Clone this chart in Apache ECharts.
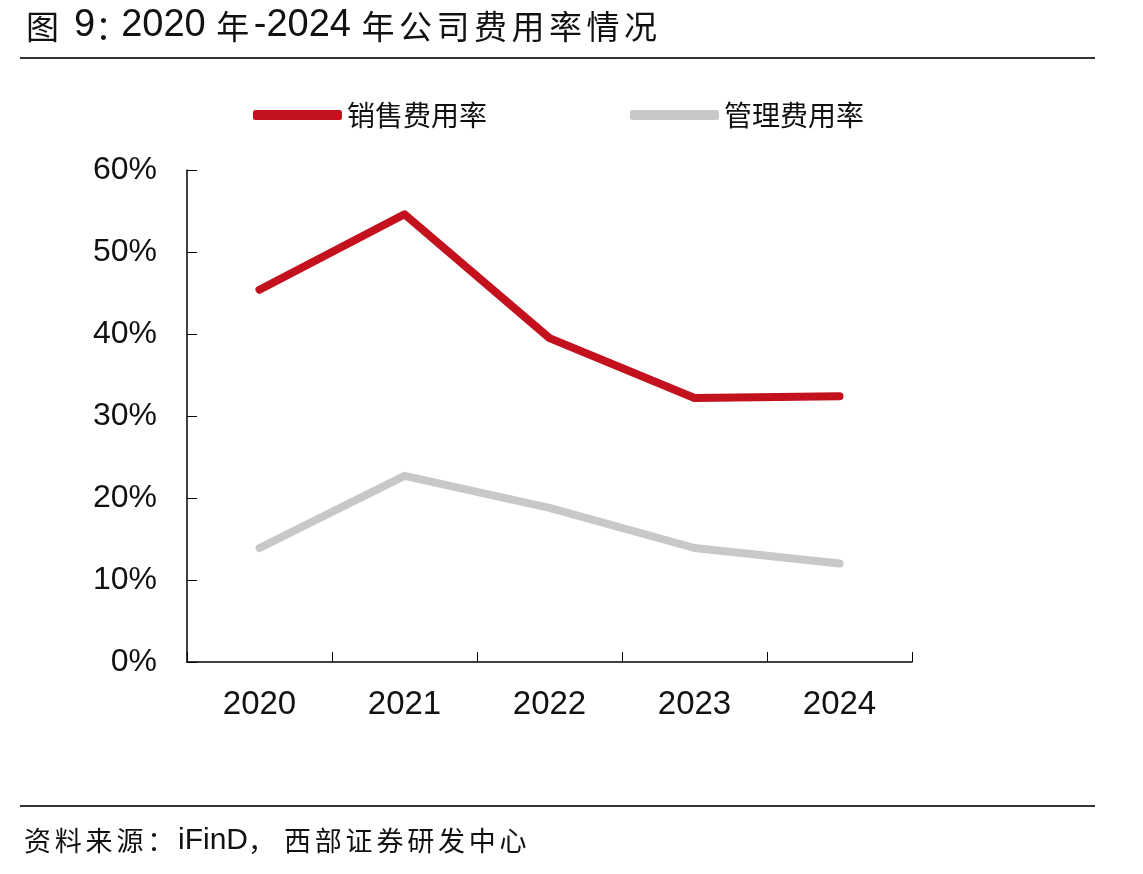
<!DOCTYPE html>
<html>
<head>
<meta charset="utf-8">
<script src="https://cdn.jsdelivr.net/npm/echarts@6/dist/echarts.min.js"></script>
<style>
  html, body { margin: 0; padding: 0; background: #fff; }
  #main { width: 1143px; height: 874px; }
</style>
</head>
<body>
<div id="main"></div>
<script>
// data
var years = ["2020", "2021", "2022", "2023", "2024"];
var sellRate = [45.4, 54.6, 39.5, 32.2, 32.4];   // 销售费用率
var mgmtRate = [13.9, 22.7, 18.8, 13.9, 12.0];   // 管理费用率
var yTicks = [0, 10, 20, 30, 40, 50, 60];

var cjk = '"Noto Sans CJK SC", sans-serif';
var latin = '"Liberation Sans", Arial, sans-serif';

// build rich text, one token per CJK char so each gets a fixed advance
function rich(parts) {
  return parts.map(function (p) {
    if (p[2]) {
      return p[1].split("").map(function (ch) { return "{" + p[0] + "|" + ch + "}"; }).join("");
    }
    return "{" + p[0] + "|" + p[1] + "}";
  }).join("");
}

var titleText = rich([
  ["c", "图", 1], ["d", " 9"], ["k", "："], ["d", "2020 "], ["c", "年", 1],
  ["d", "-2024 "], ["c", "年公司费用率情况", 1]
]);
var sourceText = rich([
  ["c", "资料来源：", 1], ["d", "iFinD"], ["k", "，"], ["c", "西部证券研发中心", 1]
]);

var chart = echarts.init(document.getElementById("main"));
var option = {
  backgroundColor: "#fff",
  animation: false,
  graphic: [
    {
      type: "text", x: 26, y: 26,
      style: {
        text: titleText, fill: "#111", verticalAlign: "middle",
        rich: {
          c: { fontFamily: cjk, fontSize: 33, width: 37.5, fill: "#111" },
          k: { fontFamily: cjk, fontSize: 33, width: 26, fill: "#111" },
          d: { fontFamily: latin, fontSize: 38, fill: "#111" }
        }
      }
    },
    {
      type: "line", shape: { x1: 20, y1: 58, x2: 1095, y2: 58 },
      style: { stroke: "#333", lineWidth: 2 }
    },
    {
      type: "line", shape: { x1: 20, y1: 806, x2: 1095, y2: 806 },
      style: { stroke: "#333", lineWidth: 2 }
    },
    {
      type: "text", x: 24, y: 841,
      style: {
        text: sourceText, fill: "#111", verticalAlign: "middle",
        rich: {
          c: { fontFamily: cjk, fontSize: 27, width: 30.8, fill: "#111" },
          k: { fontFamily: cjk, fontSize: 27, width: 36, fill: "#111" },
          d: { fontFamily: latin, fontSize: 30, fill: "#111" }
        }
      }
    }
  ],
  legend: {
    left: 253, top: 101, padding: 0,
    itemWidth: 89, itemHeight: 10, itemGap: 143,
    icon: "roundRect",
    textStyle: { fontFamily: cjk, fontSize: 28, color: "#111", width: 145, overflow: "none" },
    data: ["销售费用率", "管理费用率"]
  },
  grid: { left: 187, right: 231, top: 170, bottom: 212 },
  xAxis: {
    type: "category",
    data: years,
    boundaryGap: true,
    axisLine: { show: true, lineStyle: { color: "#000", width: 1.5 } },
    axisTick: { show: true, interval: 0, inside: true, length: 10, lineStyle: { color: "#000", width: 1 } },
    axisLabel: { fontFamily: latin, fontSize: 33, color: "#111", margin: 26 }
  },
  yAxis: {
    type: "value",
    min: yTicks[0], max: yTicks[yTicks.length - 1], interval: 10,
    axisLine: { show: true, lineStyle: { color: "#000", width: 1.5 } },
    axisTick: { show: true, inside: true, length: 10, lineStyle: { color: "#000" } },
    splitLine: { show: false },
    axisLabel: { formatter: "{value}%", fontFamily: latin, fontSize: 32, color: "#111", margin: 30 }
  },
  series: [
    {
      name: "销售费用率", type: "line", data: sellRate,
      symbol: "none", color: "#C3111E",
      lineStyle: { width: 8, color: "#C3111E", cap: "round", join: "round" }
    },
    {
      name: "管理费用率", type: "line", data: mgmtRate,
      symbol: "none", color: "#C8C8C8",
      lineStyle: { width: 8, color: "#C8C8C8", cap: "round", join: "round" }
    }
  ]
};
chart.setOption(option);
</script>
</body>
</html>
